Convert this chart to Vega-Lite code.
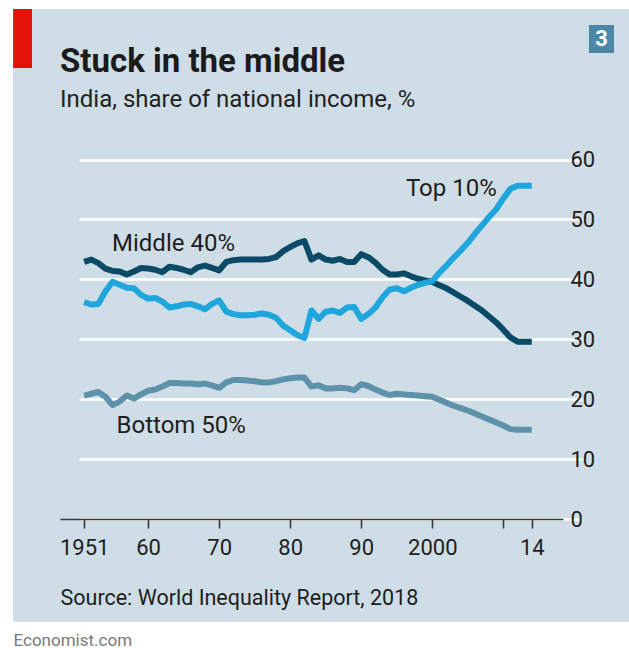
{
  "$schema": "https://vega.github.io/schema/vega-lite/v6.json",
  "width": 616,
  "height": 613,
  "autosize": "none",
  "padding": {"left": 13, "top": 9, "right": 0, "bottom": 26},
  "background": "white",
  "title": {
    "text": "Stuck in the middle",
    "subtitle": "India, share of national income, %",
    "anchor": "start",
    "frame": "group",
    "dx": 47,
    "offset": -103,
    "fontSize": 33,
    "fontWeight": "bold",
    "color": "#1b1b1b",
    "subtitleFontSize": 24,
    "subtitleColor": "#222222",
    "subtitlePadding": 9
  },
  "data": {
    "values": [
      {"year": 1951, "Top 10%": 36.2, "Middle 40%": 42.9, "Bottom 50%": 20.6},
      {"year": 1952, "Top 10%": 35.8, "Middle 40%": 43.3, "Bottom 50%": 20.9},
      {"year": 1953, "Top 10%": 35.9, "Middle 40%": 42.7, "Bottom 50%": 21.2},
      {"year": 1954, "Top 10%": 38.0, "Middle 40%": 41.8, "Bottom 50%": 20.4},
      {"year": 1955, "Top 10%": 39.6, "Middle 40%": 41.4, "Bottom 50%": 19.0},
      {"year": 1956, "Top 10%": 39.1, "Middle 40%": 41.3, "Bottom 50%": 19.6},
      {"year": 1957, "Top 10%": 38.6, "Middle 40%": 40.8, "Bottom 50%": 20.6},
      {"year": 1958, "Top 10%": 38.5, "Middle 40%": 41.3, "Bottom 50%": 20.1},
      {"year": 1959, "Top 10%": 37.4, "Middle 40%": 41.9, "Bottom 50%": 20.8},
      {"year": 1960, "Top 10%": 36.8, "Middle 40%": 41.8, "Bottom 50%": 21.4},
      {"year": 1961, "Top 10%": 36.9, "Middle 40%": 41.6, "Bottom 50%": 21.6},
      {"year": 1962, "Top 10%": 36.3, "Middle 40%": 41.2, "Bottom 50%": 22.1},
      {"year": 1963, "Top 10%": 35.3, "Middle 40%": 42.1, "Bottom 50%": 22.7},
      {"year": 1964, "Top 10%": 35.5, "Middle 40%": 41.9, "Bottom 50%": 22.7},
      {"year": 1965, "Top 10%": 35.8, "Middle 40%": 41.6, "Bottom 50%": 22.6},
      {"year": 1966, "Top 10%": 35.9, "Middle 40%": 41.2, "Bottom 50%": 22.6},
      {"year": 1967, "Top 10%": 35.5, "Middle 40%": 42.0, "Bottom 50%": 22.5},
      {"year": 1968, "Top 10%": 35.0, "Middle 40%": 42.3, "Bottom 50%": 22.6},
      {"year": 1969, "Top 10%": 35.9, "Middle 40%": 41.9, "Bottom 50%": 22.3},
      {"year": 1970, "Top 10%": 36.5, "Middle 40%": 41.5, "Bottom 50%": 21.9},
      {"year": 1971, "Top 10%": 34.6, "Middle 40%": 42.9, "Bottom 50%": 22.8},
      {"year": 1972, "Top 10%": 34.2, "Middle 40%": 43.2, "Bottom 50%": 23.2},
      {"year": 1973, "Top 10%": 34.0, "Middle 40%": 43.3, "Bottom 50%": 23.2},
      {"year": 1974, "Top 10%": 34.0, "Middle 40%": 43.3, "Bottom 50%": 23.1},
      {"year": 1975, "Top 10%": 34.1, "Middle 40%": 43.3, "Bottom 50%": 23.0},
      {"year": 1976, "Top 10%": 34.3, "Middle 40%": 43.3, "Bottom 50%": 22.8},
      {"year": 1977, "Top 10%": 34.1, "Middle 40%": 43.4, "Bottom 50%": 22.8},
      {"year": 1978, "Top 10%": 33.6, "Middle 40%": 43.7, "Bottom 50%": 23.0},
      {"year": 1979, "Top 10%": 32.3, "Middle 40%": 44.7, "Bottom 50%": 23.3},
      {"year": 1980, "Top 10%": 31.5, "Middle 40%": 45.4, "Bottom 50%": 23.5},
      {"year": 1981, "Top 10%": 30.7, "Middle 40%": 46.0, "Bottom 50%": 23.6},
      {"year": 1982, "Top 10%": 30.2, "Middle 40%": 46.4, "Bottom 50%": 23.6},
      {"year": 1983, "Top 10%": 34.8, "Middle 40%": 43.3, "Bottom 50%": 22.1},
      {"year": 1984, "Top 10%": 33.4, "Middle 40%": 44.0, "Bottom 50%": 22.3},
      {"year": 1985, "Top 10%": 34.6, "Middle 40%": 43.3, "Bottom 50%": 21.8},
      {"year": 1986, "Top 10%": 34.8, "Middle 40%": 43.1, "Bottom 50%": 21.8},
      {"year": 1987, "Top 10%": 34.4, "Middle 40%": 43.4, "Bottom 50%": 21.9},
      {"year": 1988, "Top 10%": 35.3, "Middle 40%": 42.9, "Bottom 50%": 21.8},
      {"year": 1989, "Top 10%": 35.4, "Middle 40%": 42.9, "Bottom 50%": 21.5},
      {"year": 1990, "Top 10%": 33.4, "Middle 40%": 44.2, "Bottom 50%": 22.5},
      {"year": 1991, "Top 10%": 34.2, "Middle 40%": 43.7, "Bottom 50%": 22.2},
      {"year": 1992, "Top 10%": 35.3, "Middle 40%": 42.8, "Bottom 50%": 21.6},
      {"year": 1993, "Top 10%": 37.0, "Middle 40%": 41.6, "Bottom 50%": 21.1},
      {"year": 1994, "Top 10%": 38.3, "Middle 40%": 40.8, "Bottom 50%": 20.7},
      {"year": 1995, "Top 10%": 38.5, "Middle 40%": 40.8, "Bottom 50%": 20.9},
      {"year": 1996, "Top 10%": 38.0, "Middle 40%": 41.0, "Bottom 50%": 20.8},
      {"year": 1997, "Top 10%": 38.6, "Middle 40%": 40.5, "Bottom 50%": 20.7},
      {"year": 1998, "Top 10%": 39.1, "Middle 40%": 40.1, "Bottom 50%": 20.6},
      {"year": 1999, "Top 10%": 39.4, "Middle 40%": 39.8, "Bottom 50%": 20.5},
      {"year": 2000, "Top 10%": 39.7, "Middle 40%": 39.6, "Bottom 50%": 20.4},
      {"year": 2001, "Top 10%": 41.1, "Middle 40%": 39.0, "Bottom 50%": 19.9},
      {"year": 2002, "Top 10%": 42.3, "Middle 40%": 38.5, "Bottom 50%": 19.4},
      {"year": 2003, "Top 10%": 43.6, "Middle 40%": 37.8, "Bottom 50%": 18.9},
      {"year": 2004, "Top 10%": 44.8, "Middle 40%": 37.1, "Bottom 50%": 18.5},
      {"year": 2005, "Top 10%": 46.1, "Middle 40%": 36.4, "Bottom 50%": 18.1},
      {"year": 2006, "Top 10%": 47.6, "Middle 40%": 35.6, "Bottom 50%": 17.6},
      {"year": 2007, "Top 10%": 49.0, "Middle 40%": 34.8, "Bottom 50%": 17.1},
      {"year": 2008, "Top 10%": 50.4, "Middle 40%": 33.8, "Bottom 50%": 16.6},
      {"year": 2009, "Top 10%": 51.7, "Middle 40%": 32.8, "Bottom 50%": 16.1},
      {"year": 2010, "Top 10%": 53.5, "Middle 40%": 31.6, "Bottom 50%": 15.6},
      {"year": 2011, "Top 10%": 55.1, "Middle 40%": 30.3, "Bottom 50%": 15.0},
      {"year": 2012, "Top 10%": 55.6, "Middle 40%": 29.6, "Bottom 50%": 14.9},
      {"year": 2013, "Top 10%": 55.6, "Middle 40%": 29.6, "Bottom 50%": 14.9},
      {"year": 2014, "Top 10%": 55.6, "Middle 40%": 29.6, "Bottom 50%": 14.9}
    ]
  },
  "transform": [
    {"fold": ["Bottom 50%", "Middle 40%", "Top 10%"], "as": ["series", "share"]}
  ],
  "layer": [
    {
      "mark": {"type": "line", "strokeWidth": 6, "strokeJoin": "round", "strokeCap": "butt"},
      "encoding": {
        "x": {
          "field": "year",
          "type": "quantitative",
          "scale": {"domain": [1947.6, 2018.4], "range": [47, 550], "nice": false, "zero": false},
          "axis": {
            "orient": "bottom",
            "offset": -103,
            "values": [1951, 1960, 1970, 1980, 1990, 2000, 2010, 2014],
            "format": "d",
            "labelExpr": "datum.value == 2010 ? '' : (datum.value == 1951 || datum.value == 2000) ? datum.label : substring(datum.label, 2)",
            "grid": false,
            "domainColor": "#3b3b3b",
            "domainWidth": 1.6,
            "tickColor": "#3b3b3b",
            "tickWidth": 1.6,
            "tickSize": 9,
            "labelFontSize": 22,
            "labelColor": "#1e1e1e",
            "labelPadding": 9,
            "labelFlush": false,
            "labelOverlap": false,
            "labelBound": false,
            "zindex": 1,
            "title": "Source: World Inequality Report, 2018",
            "titleX": 47,
            "titleY": 85,
            "titleAlign": "left",
            "titleAnchor": "start",
            "titleBaseline": "alphabetic",
            "titleFontWeight": "normal",
            "titleFontSize": 21.5,
            "titleColor": "#1e1e1e"
          }
        },
        "y": {
          "field": "share",
          "type": "quantitative",
          "scale": {"domain": [0, 60], "range": [510, 150.5], "nice": false, "zero": false},
          "axis": {
            "orient": "right",
            "offset": -66,
            "values": [0, 10, 20, 30, 40, 50, 60],
            "domain": false,
            "ticks": false,
            "grid": true,
            "gridColor": "white",
            "gridWidth": 2.5,
            "gridOpacity": 1,
            "labelAlign": "left",
            "labelBaseline": "middle",
            "labelPadding": 7,
            "labelFontSize": 22,
            "labelColor": "#1e1e1e",
            "labelBound": false,
            "labelFlush": false,
            "labelOverlap": false,
            "zindex": 0,
            "title": "Economist.com",
            "titleX": -550,
            "titleY": 636,
            "titleAngle": 0,
            "titleAlign": "left",
            "titleBaseline": "alphabetic",
            "titleFontWeight": "normal",
            "titleFontSize": 17,
            "titleColor": "#7a7a7a"
          }
        },
        "color": {
          "field": "series",
          "type": "nominal",
          "scale": {"domain": ["Bottom 50%", "Middle 40%", "Top 10%"], "range": ["#5e92ab", "#0b4a66", "#1fa6dc"]},
          "legend": null
        }
      }
    },
    {
      "transform": [{"filter": "datum.series == 'Middle 40%' && datum.year == 1964"}],
      "mark": {"type": "text", "align": "center", "baseline": "alphabetic", "dx": -3, "dy": -17, "fontSize": 24, "color": "#1e1e1e"},
      "encoding": {
        "x": {"field": "year", "type": "quantitative"},
        "y": {"field": "share", "type": "quantitative"},
        "text": {"field": "series"}
      }
    },
    {
      "transform": [{"filter": "datum.series == 'Top 10%' && datum.year == 2014"}],
      "mark": {"type": "text", "align": "right", "baseline": "alphabetic", "dx": -35, "dy": 10, "fontSize": 24, "color": "#1e1e1e"},
      "encoding": {
        "x": {"field": "year", "type": "quantitative"},
        "y": {"field": "share", "type": "quantitative"},
        "text": {"field": "series"}
      }
    },
    {
      "transform": [{"filter": "datum.series == 'Bottom 50%' && datum.year == 1955"}],
      "mark": {"type": "text", "align": "left", "baseline": "alphabetic", "dx": 4, "dy": 28, "fontSize": 24, "color": "#1e1e1e"},
      "encoding": {
        "x": {"field": "year", "type": "quantitative"},
        "y": {"field": "share", "type": "quantitative"},
        "text": {"field": "series"}
      }
    },
    {
      "data": {"values": [{}]},
      "mark": {"type": "rect", "color": "#e3120b"},
      "encoding": {
        "x": {"datum": 1941.0},
        "x2": {"datum": 1943.66},
        "y": {"datum": 85.12},
        "y2": {"datum": 75.27}
      }
    },
    {
      "data": {"values": [{}]},
      "mark": {"type": "rect", "color": "#4b88a6"},
      "encoding": {
        "x": {"datum": 2022.06},
        "x2": {"datum": 2025.58},
        "y": {"datum": 82.45},
        "y2": {"datum": 77.77}
      }
    },
    {
      "data": {"values": [{}]},
      "mark": {"type": "text", "text": "3", "align": "center", "baseline": "middle", "fontSize": 22, "fontWeight": "bold", "color": "white"},
      "encoding": {
        "x": {"datum": 2023.82},
        "y": {"datum": 80.1}
      }
    }
  ],
  "config": {
    "font": "Roboto",
    "view": {"fill": "#cfdde6", "stroke": null}
  }
}
